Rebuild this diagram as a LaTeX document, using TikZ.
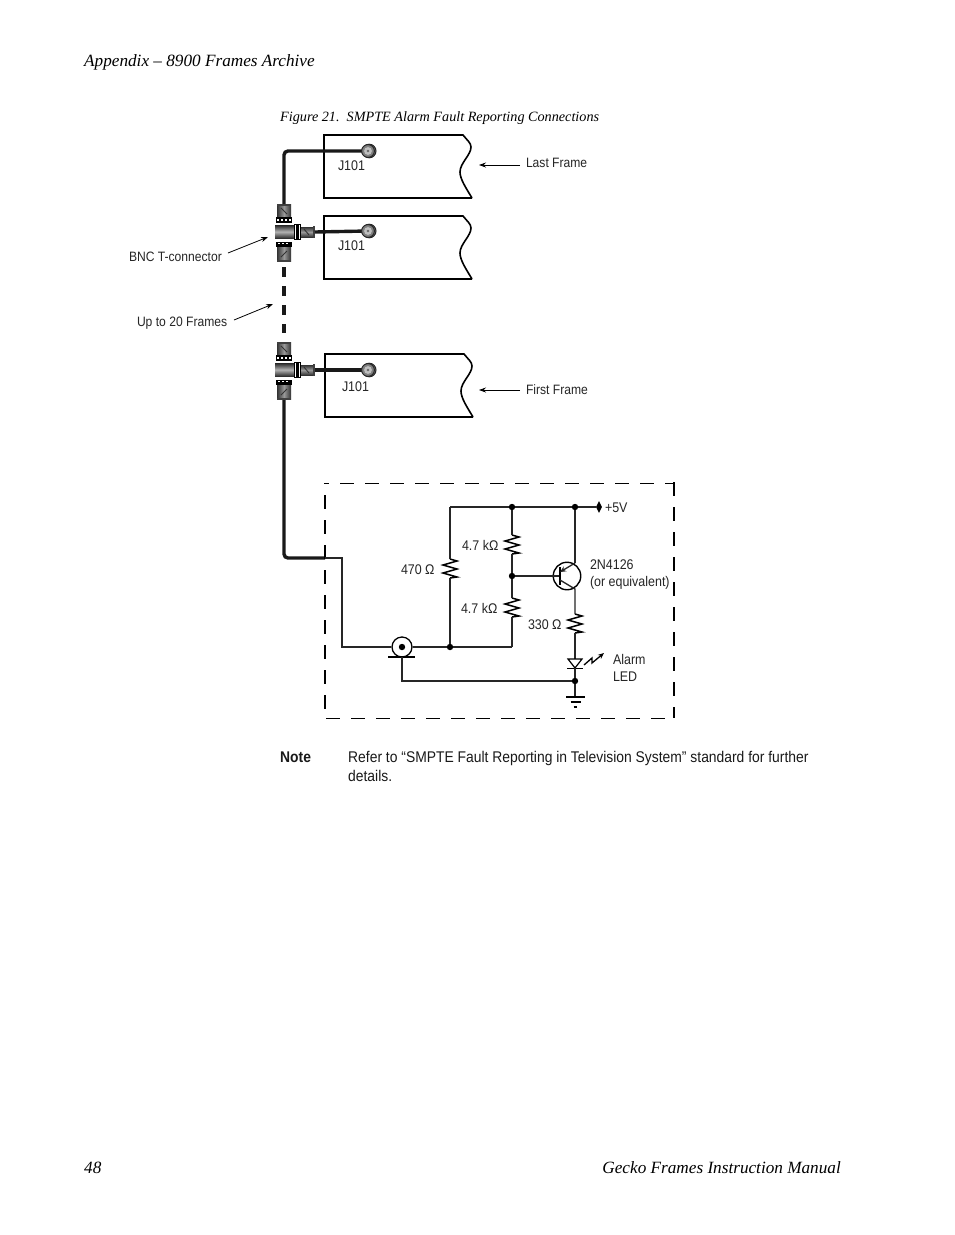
\documentclass[tikz,border=0pt]{standalone}
\usepackage{fontspec}
\setmainfont{Liberation Serif}
\newfontfamily\lblfont[FakeStretch=0.89]{Liberation Sans}
\newfontfamily\notefont[FakeStretch=0.895]{Liberation Sans}
\usetikzlibrary{arrows.meta,shapes.geometric}
\tikzset{
  x=1pt,y=-1pt,
  lbl/.style={anchor=base west,inner sep=0,outer sep=0,font=\lblfont\fontsize{14}{16}\selectfont,text=black!85},
  lblsmall/.style={lbl,font=\lblfont\fontsize{13.6}{16}\selectfont},
  notetxt/.style={anchor=base west,inner sep=0,font=\notefont\fontsize{15.5}{19}\selectfont,text=black!90},
  head/.style={anchor=base west,inner sep=0,font=\itshape\fontsize{17.2}{21}\selectfont},
  frameoutline/.style={line width=1.6,line join=miter},
  cable/.style={line width=3.4,black!90},
  wire/.style={line width=1.3,black!85},
  dotnode/.style={circle,fill=black,inner sep=0,minimum size=6.4},
  pointer/.style={line width=0.8,-{Stealth[length=7,width=5]}},
  boxdash/.style={line width=1,dash pattern=on 14 off 11},
  leftdash/.style={line width=1.9,dash pattern=on 14 off 11},
  resz/.pic={
    \coordinate (-top) at (0,0);
    \coordinate (-bot) at (0,19);
    \draw[line width=1.5,line join=miter] (0,0) -- (7,2) -- (-7,6) -- (7,10) -- (-7,14) -- (7,18) -- (0,19);
  },
  bncjack/.pic={
    \filldraw[black!85,fill=black!55,line width=1] (1.2,0) circle (6.8);
    \filldraw[black!85,fill=black!50,line width=1] (0,0) circle (6.4);
    \fill[black!25] (0,0) circle (3.9);
    \fill[black!60] (0,0) circle (1.4);
    \coordinate (-c) at (0,0);
  },
  bnct/.pic={
    % top barrel
    \shade[left color=black!80,right color=black!80,middle color=black!40] (-7,-28) rectangle (7,-15);
    \fill[black!75] (-7,-28.5) rectangle (7,-26.5);
    \draw[black!80,line width=0.9] (-3,-24) -- (3,-18);
    \fill[black] (-8,-15) rectangle (8,-9);
    \foreach \u in {-6,-2,2,6} \fill[white] (\u-1.3,-12.6) rectangle (\u+1.3,-11.4);
    % bottom barrel
    \fill[black] (-8,9.5) rectangle (8,15);
    \foreach \u in {-5,-1,3} \fill[white] (\u-1.3,11) rectangle (\u+1.3,12.2);
    \shade[left color=black!80,right color=black!80,middle color=black!40] (-7,15) rectangle (7,29);
    \fill[black!75] (-7,28) rectangle (7,30);
    \draw[black!80,line width=0.9] (-3,25) -- (3,19);
    % body
    \shade[top color=black!85,bottom color=black!85,middle color=black!30] (-9,-7) rectangle (10,6.5);
    % right arm
    \fill[black] (10,-8) rectangle (17,7.5);
    \fill[white] (11,-7) rectangle (12.2,6.5);
    \fill[white] (15,-7) rectangle (16.2,6.5);
    \shade[top color=black!80,bottom color=black!80,middle color=black!40] (17,-5) rectangle (29,5);
    \fill[black!75] (29,-6) rectangle (31,6);
    \draw[black!80,line width=0.9] (20,-3) -- (25,3);
    \coordinate (-n) at (0,-28);
    \coordinate (-s) at (0,30);
    \coordinate (-e) at (31,0);
  },
  framebody/.pic={
    \draw[frameoutline] (148,63) -- (0,63) -- (0,0) -- (139,0)
      .. controls (143,5) and (147,8) .. (147,12)
      .. controls (147,20) and (136,28) .. (136,37)
      .. controls (136,44) and (142,53) .. (148,63);
  }
}
\begin{document}
\begin{tikzpicture}
\useasboundingbox (0,0) rectangle (954,1235);
\fill[white] (0,0) rectangle (954,1235);

% page text
\node[head] (hdr) at (84,66.5) {Appendix – 8900 Frames Archive};
\node[anchor=base west,inner sep=0,font=\itshape\fontsize{14.2}{17}\selectfont] (fig) at (280,121) {Figure 21.\ \ SMPTE Alarm Fault Reporting Connections};
\node[head] (pg) at (84,1173) {48};
\node[anchor=base east,inner sep=0,font=\itshape\fontsize{17.2}{21}\selectfont] (man) at (841,1173) {Gecko Frames Instruction Manual};
\node[notetxt,font=\notefont\bfseries\fontsize{15.5}{19}\selectfont] (note) at (280,762) {Note};
\node[notetxt] (n1) at (348,762) {Refer to “SMPTE Fault Reporting in Television System” standard for further};
\node[notetxt] (n2) at (348,781) {details.};

% frames
\pic (f1) at (324,135) {framebody};
\pic (f2) at (324,216) {framebody};
\pic (f3) at (325,354) {framebody};

% anchors for cabling
\coordinate (jA) at (368,151);
\coordinate (jB) at (368,231);
\coordinate (jC) at (368,370);
\coordinate (corner) at (325,558);
\coordinate (wireturn) at (342,558);
\coordinate (wireend) at (342,647);
\coordinate (dashA) at (284,267);
\coordinate (dashB) at (284,333);

% thick cabling
\pic (t1) at (284,232) {bnct};
\pic (t2) at (284,370) {bnct};
\draw[cable,rounded corners=4] (t1-n) |- (jA);
\draw[cable] (t1-e) -- (jB);
\draw[cable] (t2-e) -- (jC);
\draw[cable,rounded corners=4] (t2-s) |- (corner);
\draw[cable,line width=3.6,dash pattern=on 10 off 9] (dashA) -- (dashB);
\pic (ja) at (jA) {bncjack};
\pic (jb) at (jB) {bncjack};
\pic (jc) at (jC) {bncjack};

% frame labels
\node[lbl] (l1) at (338,170) {J101};
\node[lbl] (l2) at (338,250) {J101};
\node[lbl] (l3) at (342,391) {J101};
\node[lblsmall] (last) at (526,167) {Last Frame};
\node[lblsmall] (first) at (526,394) {First Frame};
\node[lblsmall] (bnc) at (129,261) {BNC T-connector};
\node[lblsmall] (up) at (137,326) {Up to 20 Frames};
\coordinate (a1) at (479,165);
\coordinate (a2) at (479,390);
\coordinate (a3) at (268,237);
\coordinate (a4) at (273,304);
\coordinate (b1) at (520,165);
\coordinate (b2) at (520,390);
\coordinate (b3) at (228,253);
\coordinate (b4) at (234,320);
\draw[pointer] (b1) -- (a1);
\draw[pointer] (b2) -- (a2);
\draw[pointer] (b3) -- (a3);
\draw[pointer] (b4) -- (a4);

% dashed enclosure
\coordinate (tl) at (324,483);
\coordinate (tr) at (674,483);
\coordinate (bl) at (326,718);
\coordinate (br) at (674,718);
\coordinate (rt) at (674,482);
\coordinate (ltop) at (325,483);
\coordinate (lbot) at (325,718);
\draw[boxdash,dash phase=9] (tl) -- (tr);
\draw[boxdash] (bl) -- (br);
\draw[boxdash,line width=1.2] (rt) -- (br);
\draw[leftdash,dash phase=13] (ltop) -- (lbot);

% circuit nodes
\node[dotnode] (top1) at (512,507) {};
\node[dotnode] (top2) at (575,507) {};
\node[diamond,fill=black,inner sep=0,minimum width=6,minimum height=12] (vcc) at (599,507) {};
\node[dotnode] (mid) at (512,576) {};
\node[dotnode] (in) at (450,647) {};
\node[dotnode] (gnd) at (575,681) {};
\coordinate (tl2) at (450,507);
\coordinate (mb) at (512,647);
\node[circle,draw,line width=1.3,inner sep=0,minimum size=20] (coax) at (402,647) {};
\node[dotnode] (coaxc) at (402,647) {};
\coordinate (shield) at (402,657);
\coordinate (sb) at (402,681);
\coordinate (bar1) at (388,657);
\coordinate (bar2) at (415,657);
\draw[line width=1.2] (bar1) -- (bar2);

% resistors
\pic (r470) at (450,559) {resz};
\pic (r47a) at (512,535) {resz};
\pic (r47b) at (512,598) {resz};
\pic (r330) at (575,614) {resz};

% wires
\draw[wire] (corner) -- (wireturn) -- (wireend) -- (coax);
\draw[wire] (coax) -- (in) -- (mb);
\draw[wire] (tl2) -- (top1) -- (top2) -- (vcc);
\draw[wire] (tl2) -- (r470-top);
\draw[wire] (r470-bot) -- (in);
\draw[wire] (top1) -- (r47a-top);
\draw[wire] (r47a-bot) -- (mid);
\draw[wire] (mid) -- (r47b-top);
\draw[wire] (r47b-bot) -- (mb);
\draw[line width=1.6,black!85] (shield) -- (sb) -- (gnd);

% transistor
\node[circle,draw,line width=1.4,inner sep=0,minimum size=27.5] (q) at (567,576) {};
\coordinate (qb) at (560,576);
\coordinate (qe) at (575,563);
\coordinate (qc) at (575,589);
\coordinate (qe1) at (560,572);
\coordinate (qc1) at (560,580);
\draw[wire] (mid) -- (qb);
\draw[line width=1.8] (560,567) -- (560,585);
\draw[wire] (top2) -- (qe);
\draw[wire,{Stealth[length=6,width=5.5]}-] (qe1) -- (qe);
\draw[wire] (qc1) -- (qc) -- (r330-top);

% LED
\coordinate (ledtop) at (575,659);
\coordinate (ledtip) at (575,668);
\coordinate (ground) at (575,697);
\draw[wire] (r330-bot) -- (ledtop);
\draw[line width=1.2,fill=white,line join=miter] (568,659) -- (582,659) -- (ledtip) -- cycle;
\draw[line width=1.6] (567,668.5) -- (583,668.5);
\draw[wire] (ledtip) -- (gnd) -- (ground);
\draw[line width=1.3,-{Stealth[length=6,width=5]}] (584,665) -- (592,658) -- (592,663) -- (604,653);
\draw[line width=1.2] (566,697) -- (585,697);
\draw[line width=1.1] (570.5,702) -- (580.5,702);
\draw[line width=1.1] (573.5,707) -- (577,707);

% circuit labels
\node[lbl] (v5) at (605,512) {+5V};
\node[lbl] (la) at (462,550) {4.7 kΩ};
\node[lbl] (lb) at (461,613) {4.7 kΩ};
\node[lbl] (lc) at (401,574) {470 Ω};
\node[lbl] (ld) at (528,629) {330 Ω};
\node[lbl] (le) at (590,569) {2N4126};
\node[lbl] (lf) at (590,586) {(or equivalent)};
\node[lbl] (lg) at (613,664) {Alarm};
\node[lbl] (lh) at (613,681) {LED};
\end{tikzpicture}
\end{document}
